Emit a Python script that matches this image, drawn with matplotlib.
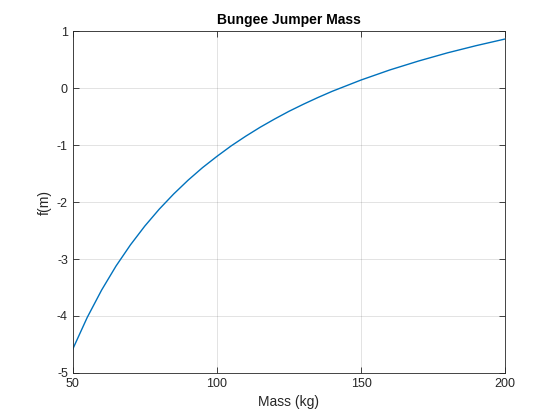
import numpy as np
import matplotlib
matplotlib.use("Agg")
import matplotlib.pyplot as plt

# values
mass = [50, 55, 60, 65, 70, 75, 80, 85, 90, 95, 100, 105, 110, 115, 120,
        125, 130, 135, 140, 150, 160, 170, 180, 190, 200]
fm = [-4.580, -4.026, -3.545, -3.123, -2.752, -2.421, -2.125, -1.859,
      -1.617, -1.397, -1.199, -1.013, -0.845, -0.688, -0.544, -0.408,
      -0.284, -0.167, -0.057, 0.141, 0.318, 0.475, 0.618, 0.745, 0.861]

plt.rcParams['font.family'] = ['Liberation Sans', 'DejaVu Sans']
plt.rcParams['axes.unicode_minus'] = False

fig = plt.figure(figsize=(5.6, 4.2), dpi=100)
ax = fig.add_axes([0.130, 0.112, 0.772, 0.814])

ax.plot(mass, fm, color='#0072BD', linewidth=1.0)

ax.set_xlim(50, 200)
ax.set_ylim(-5, 1)
ax.set_xticks([50, 100, 150, 200])
ax.set_yticks([-5, -4, -3, -2, -1, 0, 1])

ax.grid(True, color='#262626', alpha=0.15, linewidth=0.6)
ax.tick_params(direction='in', length=4, width=0.6, colors='#262626',
               labelsize=9, top=True, right=True)
for sp in ax.spines.values():
    sp.set_color('#262626')
    sp.set_linewidth(0.6)

ax.set_xlabel('Mass (kg)', fontsize=10, color='#262626')
ax.set_ylabel('f(m)', fontsize=10, color='#262626')
ax.set_title('Bungee Jumper Mass', fontsize=10, fontweight='bold', pad=5)

fig.savefig('out.png', dpi=100)
